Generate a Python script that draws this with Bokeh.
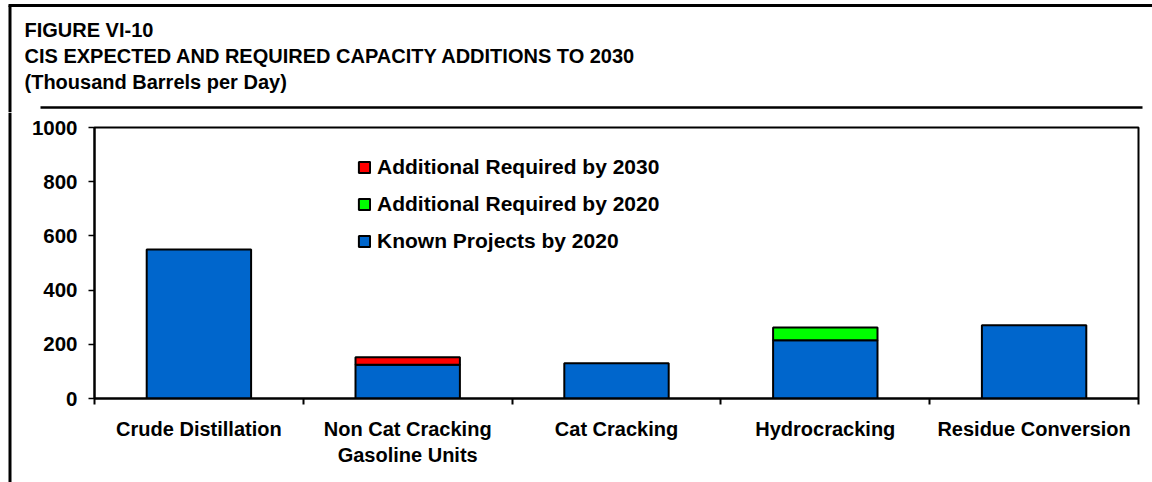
from bokeh.plotting import figure
from bokeh.layouts import column, row
from bokeh.models import Range1d, FixedTicker, Legend, LegendItem
from bokeh.core.properties import value
from bokeh.embed import file_html
from bokeh.resources import INLINE

# ---- data ----
categories = ["Crude Distillation", "Non Cat Cracking\nGasoline Units", "Cat Cracking",
              "Hydrocracking", "Residue Conversion"]
known_2020 = [550, 125, 130, 215, 270]
add_2020 = [0, 0, 0, 47, 0]
add_2030 = [0, 27, 0, 0, 0]
y_ticks = [0, 200, 400, 600, 800, 1000]
title_lines = ["FIGURE VI-10",
               "CIS EXPECTED AND REQUIRED CAPACITY ADDITIONS TO 2030",
               "(Thousand Barrels per Day)"]
series_names = ["Known Projects by 2020", "Additional Required by 2020", "Additional Required by 2030"]
series_colors = ["#0066CC", "#00FF00", "#FF0000"]

FONT = "Liberation Sans"
PAGE_W, PAGE_H = 1152, 482
TOP_H = 112
STRIP_W = 20


def no_align(fig):
    try:
        fig.frame_align = False
    except Exception:
        pass


# ---------- top band: title + rules ----------
top = figure(width=PAGE_W, height=TOP_H, output_backend="svg", toolbar_location=None,
             x_range=Range1d(0, PAGE_W), y_range=Range1d(TOP_H, 0),
             x_axis_type=None, y_axis_type=None, min_border=0)
top.outline_line_color = None
top.grid.visible = False
top.background_fill_color = "white"
top.border_fill_color = "white"
no_align(top)

top.segment(x0=[8, 9.5, 40], y0=[5, 5, 107], x1=[PAGE_W, 9.5, 1142], y1=[5, TOP_H, 107],
            line_color="black", line_width=[3, 3, 2.5])
top.text(x=[24, 24, 24], y=[29, 55, 81], text=title_lines,
         text_font=value(FONT), text_font_style="bold", text_font_size="20px",
         text_baseline="middle", text_align="left", text_color="black")

# ---------- left strip: outer border line ----------
bot_h = PAGE_H - TOP_H
strip = figure(width=STRIP_W, height=bot_h, output_backend="svg", toolbar_location=None,
               x_range=Range1d(0, STRIP_W), y_range=Range1d(bot_h, 0),
               x_axis_type=None, y_axis_type=None, min_border=0)
strip.outline_line_color = None
strip.grid.visible = False
strip.background_fill_color = "white"
strip.border_fill_color = "white"
no_align(strip)
strip.segment(x0=[9.5], y0=[0], x1=[9.5], y1=[bot_h], line_color="black", line_width=3)

# ---------- chart ----------
n = len(categories)
xs = [i + 0.5 for i in range(n)]

p = figure(width=PAGE_W - STRIP_W, height=bot_h, output_backend="svg", toolbar_location=None,
           x_range=Range1d(0, n), y_range=Range1d(0, 1000),
           min_border_left=94 - STRIP_W, min_border_right=14,
           min_border_top=127 - TOP_H, min_border_bottom=84)
p.background_fill_color = "white"
p.border_fill_color = "white"
p.xgrid.visible = False
p.ygrid.visible = False
p.outline_line_color = "black"
p.outline_line_width = 2
no_align(p)

series = [known_2020, add_2020, add_2030]
bottoms = [0] * n
renderers = []
for vals, col in zip(series, series_colors):
    idx = [i for i in range(n) if vals[i] > 0]
    r = p.vbar(x=[xs[i] for i in idx], width=0.5,
               bottom=[bottoms[i] for i in idx],
               top=[bottoms[i] + vals[i] for i in idx],
               fill_color=col, line_color="black", line_width=2)
    renderers.append(r)
    bottoms = [b + v for b, v in zip(bottoms, vals)]

xa = p.xaxis[0]
xa.ticker = FixedTicker(ticks=xs, minor_ticks=list(range(n + 1)))
xa.major_label_overrides = {x: c for x, c in zip(xs, categories)}
xa.major_tick_line_color = None
xa.minor_tick_line_color = "black"
xa.minor_tick_line_width = 2
xa.minor_tick_in = 0
xa.minor_tick_out = 6
xa.axis_line_width = 2
xa.axis_line_color = "black"
xa.major_label_standoff = 13
xa.major_label_text_font = FONT
xa.major_label_text_font_style = "bold"
xa.major_label_text_font_size = "20px"
xa.major_label_text_color = "black"

ya = p.yaxis[0]
ya.ticker = FixedTicker(ticks=y_ticks)
ya.minor_tick_line_color = None
ya.major_tick_in = 0
ya.major_tick_out = 6
ya.major_tick_line_width = 1.5
ya.axis_line_width = 2
ya.axis_line_color = "black"
ya.major_label_standoff = 11
ya.major_label_text_font = FONT
ya.major_label_text_font_style = "bold"
ya.major_label_text_font_size = "20.5px"
ya.major_label_text_color = "black"

items = [LegendItem(label=series_names[k], renderers=[renderers[k]]) for k in (2, 1, 0)]
legend = Legend(items=items, location=(263, 145), orientation="vertical",
                border_line_color=None, background_fill_alpha=0,
                padding=0, margin=0, spacing=13, label_standoff=6,
                glyph_width=14, glyph_height=14, label_height=24,
                label_text_font=FONT, label_text_font_style="bold",
                label_text_font_size="21px", label_text_color="black")
p.add_layout(legend)

layout = column(top, row(strip, p, spacing=0), spacing=0)
open("out.html", "w").write(file_html(layout, INLINE))
